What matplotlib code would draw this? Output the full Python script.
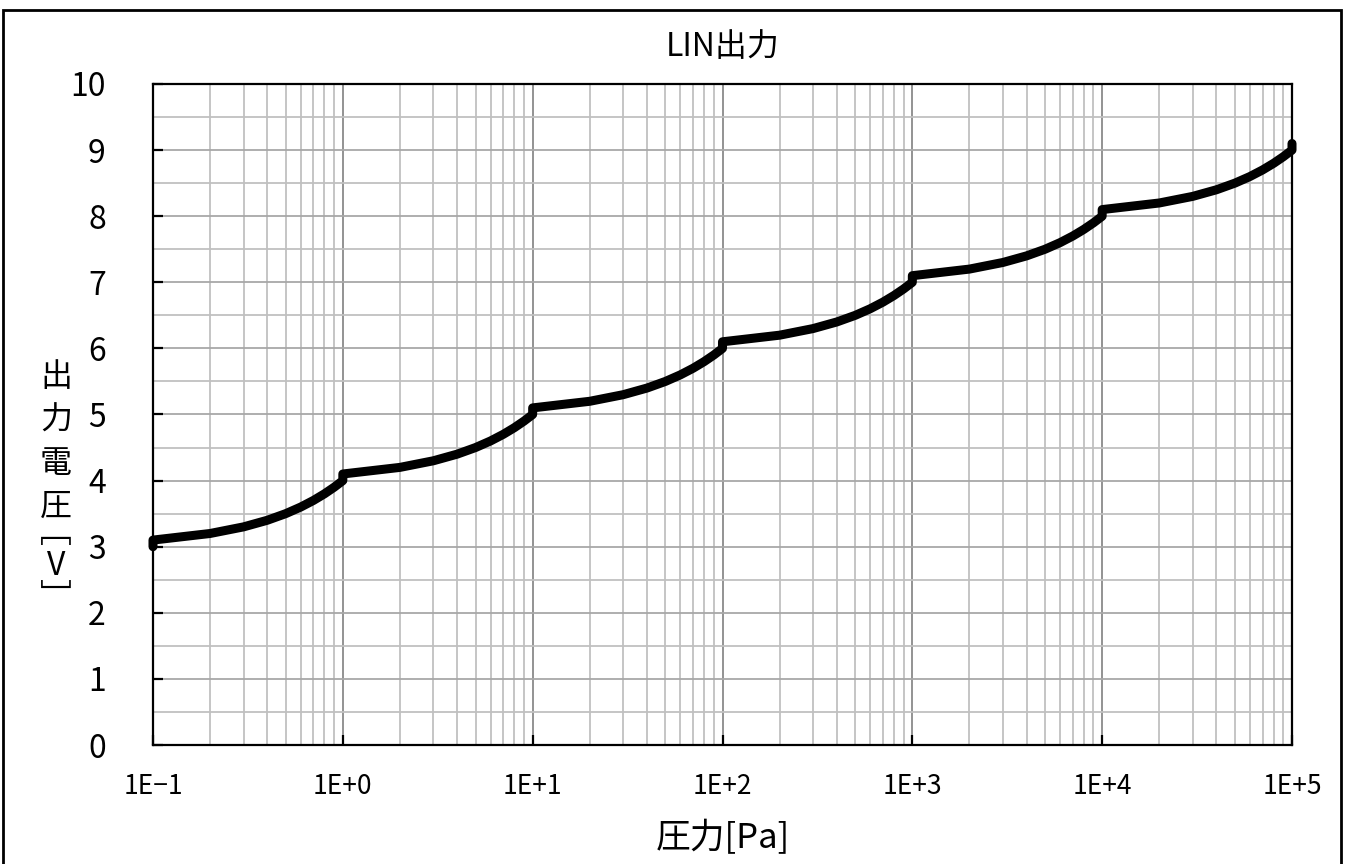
import matplotlib
matplotlib.use("Agg")
import matplotlib.pyplot as plt
from matplotlib.ticker import FixedLocator, NullFormatter
from matplotlib.patches import Rectangle

plt.rcParams['font.family'] = ['Noto Sans CJK JP', 'DejaVu Sans']

title = "LIN出力"
xlabel = "圧力[Pa]"
ylabel_main = "出\n力\n電\n圧"
ylabel_unit = "﹇\nV\n﹈"

pressure = [
    0.1, 0.1, 0.2, 0.3, 0.4, 0.5, 0.6, 0.7, 0.8, 0.9, 1.0,
    1.0, 2.0, 3.0, 4.0, 5.0, 6.0, 7.0, 8.0, 9.0, 10.0,
    10.0, 20.0, 30.0, 40.0, 50.0, 60.0, 70.0, 80.0, 90.0, 100.0,
    100.0, 200.0, 300.0, 400.0, 500.0, 600.0, 700.0, 800.0, 900.0, 1000.0,
    1000.0, 2000.0, 3000.0, 4000.0, 5000.0, 6000.0, 7000.0, 8000.0, 9000.0, 10000.0,
    10000.0, 20000.0, 30000.0, 40000.0, 50000.0, 60000.0, 70000.0, 80000.0, 90000.0, 100000.0,
    100000.0,
]
voltage = [
    3.0, 3.1, 3.2, 3.3, 3.4, 3.5, 3.6, 3.7, 3.8, 3.9, 4.0,
    4.1, 4.2, 4.3, 4.4, 4.5, 4.6, 4.7, 4.8, 4.9, 5.0,
    5.1, 5.2, 5.3, 5.4, 5.5, 5.6, 5.7, 5.8, 5.9, 6.0,
    6.1, 6.2, 6.3, 6.4, 6.5, 6.6, 6.7, 6.8, 6.9, 7.0,
    7.1, 7.2, 7.3, 7.4, 7.5, 7.6, 7.7, 7.8, 7.9, 8.0,
    8.1, 8.2, 8.3, 8.4, 8.5, 8.6, 8.7, 8.8, 8.9, 9.0,
    9.1,
]
x_ticks = [1e-1, 1e0, 1e1, 1e2, 1e3, 1e4, 1e5]
x_ticklabels = ["1E\u22121", "1E+0", "1E+1", "1E+2", "1E+3", "1E+4", "1E+5"]
y_ticks = [0, 1, 2, 3, 4, 5, 6, 7, 8, 9, 10]

W, H = 1347, 864
fig = plt.figure(figsize=(W / 100, H / 100), dpi=100)
ax = fig.add_axes([153 / W, 1 - 745 / H, (1292 - 153) / W, (745 - 84) / H])

ax.set_xscale('log')
ax.set_xlim(0.1, 1e5)
ax.set_ylim(0, 10)

# gridlines
minor_x = [m * 10.0 ** e for e in range(-1, 5) for m in range(2, 10)]
ax.xaxis.set_major_locator(FixedLocator(x_ticks))
ax.xaxis.set_minor_locator(FixedLocator(minor_x))
ax.xaxis.set_minor_formatter(NullFormatter())
ax.set_xticklabels(x_ticklabels)
ax.yaxis.set_major_locator(FixedLocator(y_ticks))
ax.yaxis.set_minor_locator(FixedLocator([v + 0.5 for v in y_ticks[:-1]]))

ax.grid(True, which='major', axis='x', color='#8a8a8a', linewidth=1.3)
ax.grid(True, which='minor', axis='x', color='#c0c0c0', linewidth=1.3)
ax.grid(True, which='major', axis='y', color='#a8a8a8', linewidth=1.3)
ax.grid(True, which='minor', axis='y', color='#c0c0c0', linewidth=1.3)
ax.set_axisbelow(True)

ax.plot(pressure, voltage, color='black', linewidth=6.5, solid_capstyle='round',
        solid_joinstyle='round', clip_on=False, zorder=5)

for s in ax.spines.values():
    s.set_linewidth(1.6)
    s.set_color('black')

ax.tick_params(axis='both', which='major', direction='in', length=7, width=1.6)
ax.tick_params(axis='both', which='minor', length=0)
ax.tick_params(axis='y', labelsize=23, pad=34)
ax.tick_params(axis='x', labelsize=19, pad=20)

ax.set_title(title, fontsize=23, pad=20)
ax.set_xlabel(xlabel, fontsize=25, labelpad=15)

# vertical y label, stacked characters
fig.text(56 / W, 1 - 442 / H, ylabel_main, fontsize=23, ha='center',
         va='center', linespacing=1.45)
fig.text(56 / W, 1 - 566 / H, ylabel_unit, fontsize=23, ha='center',
         va='center', linespacing=1.05)

# figure border
fig.patches.append(Rectangle((3 / W, -0.05), (1341 - 3) / W, 1.05 - 10 / H,
                             transform=fig.transFigure, fill=False,
                             edgecolor='black', linewidth=2, zorder=10))

fig.savefig('out.png', dpi=100)
